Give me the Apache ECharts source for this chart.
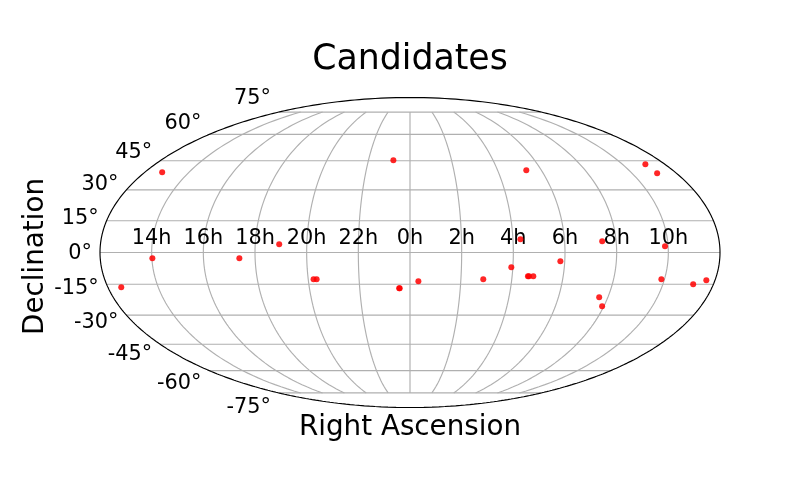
<!DOCTYPE html>
<html><head><meta charset="utf-8">
<style>html,body{margin:0;padding:0;background:#fff}#c{width:800px;height:500px}</style>
<script src="https://cdn.jsdelivr.net/npm/echarts@6/dist/echarts.min.js"></script>
</head><body><div id="c"></div>
<script>
// Candidates: right ascension (hours) and declination (degrees)
const raHours = [12.79,23.2,14.02,17.39,18.93,20.21,20.33,12.53,23.57,23.59,0.33,5.31,11.08,11.13,4.29,7.46,9.88,5.83,3.94,4.62,4.66,4.83,2.88,9.88,11.2,11.66,7.65,7.93];
const decDeg  = [38.9,45.2,-2.7,-2.7,3.9,-12.66,-12.66,-16.46,-16.95,-16.9,-13.6,39.95,43.1,38.4,6.22,5.28,2.92,-4.15,-6.97,-11.2,-11.2,-11.2,-12.66,-12.66,-15.04,-13.13,-21.27,-25.65];
const raTicks  = [14,16,18,20,22,0,2,4,6,8,10];
const decTicks = [75,60,45,30,15,0,-15,-30,-45,-60,-75];

const SQ2 = Math.SQRT2, D2R = Math.PI/180, FONT = '"DejaVu Sans"';
function theta(latDeg){
  const t = Math.PI*Math.sin(latDeg*D2R);
  let lo=-Math.PI/2, hi=Math.PI/2;
  for(let i=0;i<60;i++){const m=(lo+hi)/2; if(2*m+Math.sin(2*m)<t) lo=m; else hi=m;}
  return (lo+hi)/2;
}
function project(lonDeg,latDeg){
  const th=theta(latDeg);
  return [2*SQ2/Math.PI*lonDeg*D2R*Math.cos(th), SQ2*Math.sin(th)];
}
const raToLon = h => (((h+12)%24+24)%24-12)*15;

function lineSeries(data,color,width,z){
  return {type:'line',data,showSymbol:false,symbol:'none',silent:true,clip:false,z,
    lineStyle:{color,width},animation:false};
}
const series=[];
// meridians
raTicks.forEach(h=>{
  const lon=raToLon(h),d=[];
  for(let la=-75;la<=75;la+=1.5) d.push(project(lon,la));
  series.push(lineSeries(d,'#b0b0b0',1.15,1));
});
// parallels
decTicks.forEach(la=>{
  const d=[];
  for(let lo=-180;lo<=180;lo+=10) d.push(project(lo,la));
  series.push(lineSeries(d,'#b0b0b0',1.15,1));
});
// outline
const outline=[];
for(let la=-90;la<=90;la+=0.5) outline.push(project(-180,la));
for(let la=90;la>=-90;la-=0.5) outline.push(project(180,la));
series.push(lineSeries(outline,'#000',1.15,3));
// RA tick labels
series.push({type:'scatter',symbolSize:0,z:2,silent:true,itemStyle:{opacity:1},
  data:raTicks.map(h=>({value:project(raToLon(h),0),name:h+'h'})),
  label:{show:true,position:'top',distance:3,formatter:'{b}',color:'#000',fontFamily:FONT,fontSize:20.83}});
// Dec tick labels
series.push({type:'scatter',symbolSize:0,z:2,silent:true,itemStyle:{opacity:1},
  data:decTicks.map(la=>{
    const p=project(-180,la);
    return {value:[p[0],p[1]*1.1],name:la+'°'};
  }),
  label:{show:true,position:'left',distance:8,offset:[0,1],formatter:'{b}',color:'#000',fontFamily:FONT,fontSize:20.83}});
// candidates
series.push({type:'scatter',symbol:'circle',symbolSize:6,z:4,zlevel:1,silent:true,
  itemStyle:{color:'#ff0000',opacity:0.85},
  data:raHours.map((h,i)=>project(raToLon(h),decDeg[i]))});

const hidden={axisLine:{show:false},axisTick:{show:false},axisLabel:{show:false},splitLine:{show:false}};
const nameStyle={color:'#000',fontFamily:FONT,fontSize:27.78};
echarts.init(document.getElementById('c'),null,{renderer:'canvas'}).setOption({
  animation:false,backgroundColor:'#fff',
  title:{text:'Candidates',left:405,top:37,textAlign:'center',
    textStyle:{color:'#000',fontFamily:FONT,fontSize:34.72,fontWeight:'normal'}},
  grid:{left:100,top:97.5,width:620,height:310},
  xAxis:{type:'value',min:-2*SQ2,max:2*SQ2,name:'Right Ascension',nameLocation:'middle',nameGap:6,nameTextStyle:nameStyle,...hidden},
  yAxis:{type:'value',min:-SQ2,max:SQ2,name:'Declination',nameLocation:'middle',nameGap:50,nameRotate:90,nameTextStyle:{...nameStyle,padding:[0,8,0,0]},...hidden},
  series
});
</script></body></html>
